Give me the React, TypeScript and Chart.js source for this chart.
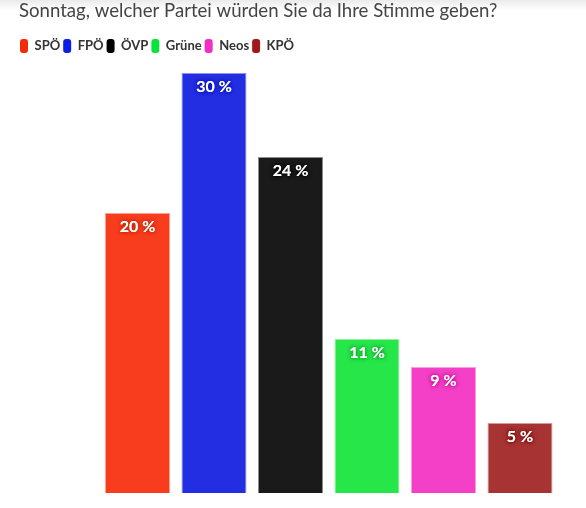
import React, { useEffect, useRef } from "react";
import { Chart, registerables } from "chart.js";

Chart.register(...registerables);

const TITLE = "Sonntag, welcher Partei würden Sie da Ihre Stimme geben?";
const parties = ["SPÖ", "FPÖ", "ÖVP", "Grüne", "Neos", "KPÖ"];
const shares = [20, 30, 24, 11, 9, 5];
const barColors = ["#f83d1f", "#232ee3", "#1a1a1a", "#26e64a", "#f43fc7", "#a83333"];
const borderColors = ["#f9a090", "#8f94f0", "#8c8c8c", "#92f0a2", "#f79fe0", "#d49999"];
const legendColors = ["#f52a0a", "#0a1ee6", "#000000", "#0be33d", "#f22ec4", "#a01a1a"];
const shadowColors = ["#c02000", "#0010b0", "#000000", "#00a020", "#c00090", "#700000"];
const Y_MAX = 30;

export default function App() {
  const ref = useRef<HTMLCanvasElement>(null);

  useEffect(() => {
    document.body.style.margin = "0";
    const valueLabels = {
      id: "valueLabels",
      afterDatasetsDraw(chart: any) {
        const ctx = chart.ctx;
        const meta = chart.getDatasetMeta(0);
        ctx.save();
        ctx.font = "bold 16px Lato";
        ctx.textAlign = "center";
        ctx.textBaseline = "middle";
        ctx.fillStyle = "#ffffff";
        meta.data.forEach((el: any, i: number) => {
          ctx.shadowColor = shadowColors[i];
          ctx.shadowBlur = 4;
          ctx.fillText(`${shares[i]} %`, el.x, el.y + 14);
          ctx.fillText(`${shares[i]} %`, el.x, el.y + 14);
        });
        ctx.restore();
      },
    };
    const titleShift = {
      id: "titleShift",
      afterLayout(chart: any) {
        const t = chart.titleBlock;
        if (t) {
          t.left += 2;
          t.right += 2;
        }
      },
    };

    const chart = new Chart(ref.current as HTMLCanvasElement, {
      type: "bar",
      data: {
        labels: parties,
        datasets: [
          {
            label: "Anteil",
            data: shares,
            backgroundColor: barColors,
            borderColor: borderColors,
            borderWidth: 1,
            barPercentage: 0.85,
            categoryPercentage: 1,
          },
        ],
      },
      options: {
        responsive: false,
        animation: false,
        layout: { padding: { left: 17, right: 27.75, top: 0, bottom: 15 } },
        plugins: {
          title: {
            display: true,
            text: TITLE,
            align: "start",
            color: "#444444",
            font: { family: "Lato", size: 18.6, weight: "normal" },
            padding: { top: 0, bottom: 13.68 },
          },
          legend: {
            display: true,
            align: "start",
            onClick: () => {},
            labels: {
              boxWidth: 8,
              boxHeight: 14,
              padding: 3,
              color: "#333333",
              font: { family: "Lato", size: 13, weight: "bold" },
              generateLabels: () =>
                parties.map((p, i) => ({
                  text: p,
                  fillStyle: legendColors[i],
                  strokeStyle: legendColors[i],
                  lineWidth: 0,
                  hidden: false,
                  index: i,
                  datasetIndex: 0,
                  fontColor: "#333333",
                  borderRadius: 3,
                })),
            },
          },
          tooltip: { enabled: false },
        },
        scales: {
          x: { display: false },
          xTop: {
            type: "category",
            position: "top",
            labels: parties,
            display: true,
            grid: { display: false },
            border: { display: false },
            ticks: { display: false },
            afterFit: (s: any) => {
              s.height = 10;
            },
          },
          y: {
            min: 0,
            max: Y_MAX,
            display: true,
            grid: { display: false },
            border: { display: false },
            ticks: { display: false },
            afterFit: (s: any) => {
              s.width = 82.25;
            },
          },
        },
      } as any,
      plugins: [valueLabels, titleShift],
    });
    return () => chart.destroy();
  }, []);

  return (
    <div
      style={{
        width: 586,
        height: 508,
        background: "linear-gradient(#ebebeb 0px, #ffffff 10px)",
      }}
    >
      <canvas ref={ref} width={586} height={508} style={{ display: "block" }} />
    </div>
  );
}
